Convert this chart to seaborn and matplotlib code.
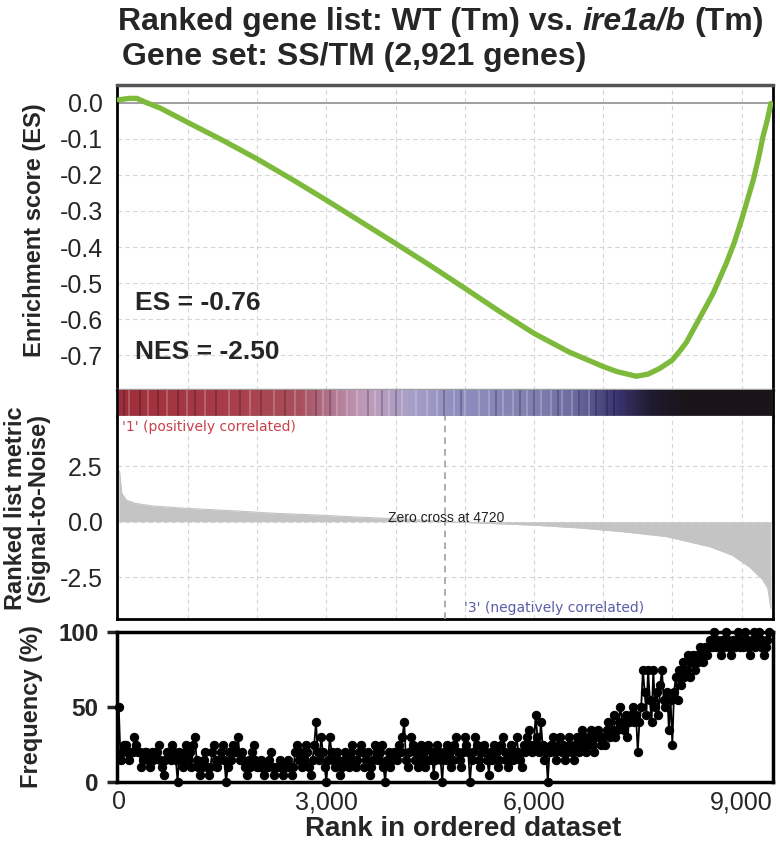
import numpy as np
import pandas as pd
import seaborn as sns
import matplotlib.pyplot as plt
from matplotlib.colors import LinearSegmentedColormap

sns.set_style("white")
plt.rcParams['font.family'] = ['Liberation Sans', 'DejaVu Sans']
plt.rcParams['axes.unicode_minus'] = False

# ---- data ----
n_genes = 9425

es_rank = [0, 150, 260, 400, 600, 1000, 1500, 2000, 2500, 3000, 3500, 4000,
           4500, 5000, 5500, 6000, 6500, 7000, 7200, 7480, 7650, 7820, 8000,
           8100, 8200, 8300, 8400, 8500, 8590, 8700, 8780, 8900, 9000, 9100,
           9170, 9250, 9310, 9370, 9425]
es_value = [0.008, 0.012, 0.012, 0.0, -0.015, -0.055, -0.104, -0.156, -0.212,
            -0.27, -0.33, -0.39, -0.451, -0.514, -0.578, -0.639, -0.69, -0.731,
            -0.745, -0.758, -0.752, -0.736, -0.713, -0.69, -0.665, -0.63,
            -0.595, -0.56, -0.528, -0.48, -0.445, -0.385, -0.325, -0.26,
            -0.214, -0.15, -0.094, -0.05, -0.002]

metric_rank = [0, 12, 43, 107, 233, 484, 988, 1618, 2248, 2879, 3509, 4137,
               4720, 5397, 6027, 6657, 7288, 7917, 8547, 8862, 9114, 9303,
               9380, 9425]
metric_value = [2.3, 2.25, 1.29, 0.98, 0.83, 0.71, 0.60, 0.50, 0.38, 0.30,
                0.20, 0.12, 0.0, -0.08, -0.16, -0.28, -0.45, -0.67, -1.13,
                -1.5, -2.03, -2.6, -3.0, -3.9]
zero_cross = 4720

# colour strip along the ranked list
strip_rank = [0, 1500, 2600, 3000, 3500, 4200, 4800, 6000, 6600, 7200, 7700,
              8200, 9425]
strip_color = ['#9e2f3a', '#a83c48', '#a8505c', '#b07088', '#c09ab8',
               '#a8a0c8', '#9090c0', '#8080b0', '#6a6aa0', '#3a3470',
               '#201a30', '#1a1418', '#1a1418']
stripe_light = [150, 420, 700, 980, 1250, 1600, 1900, 2250, 2550, 2700, 2950,
                3150, 3300, 3450, 3700, 3900, 4100, 4300, 4450, 4600, 4850,
                5000, 5200, 5350, 5550, 5700, 5900, 6100, 6250, 6400, 6550,
                6800]
stripe_dark = [80, 300, 560, 850, 1100, 1400, 1750, 2050, 2400, 2850, 3050,
               3600, 3800, 4000, 4700, 4950, 5450, 5800, 6000, 6350, 6650,
               6900, 7050, 7150]

# gene-set frequency (%) in windows of 25 ranks
freq_step = 25
freq_value = [
    50, 15, 20, 25, 25, 20, 15, 20, 20, 30, 25, 20, 20, 10, 15, 20, 20, 15, 10, 20,
    15, 20, 20, 25, 15, 10, 5, 15, 20, 20, 15, 25, 20, 15, 0, 20, 15, 10, 20, 25,
    15, 20, 10, 25, 30, 15, 10, 5, 10, 15, 20, 10, 5, 10, 20, 25, 15, 10, 15, 20,
    25, 15, 0, 10, 20, 15, 25, 20, 20, 30, 15, 20, 15, 10, 5, 15, 10, 20, 25, 15,
    10, 10, 15, 10, 5, 10, 10, 15, 20, 10, 5, 10, 10, 15, 10, 5, 10, 10, 15, 10,
    5, 10, 20, 25, 15, 20, 10, 15, 25, 20, 10, 5, 15, 25, 40, 20, 15, 30, 20, 10,
    0, 15, 30, 20, 15, 10, 20, 15, 5, 10, 15, 20, 15, 10, 20, 25, 15, 10, 15, 20,
    25, 20, 10, 15, 20, 5, 10, 15, 25, 20, 15, 20, 25, 10, 0, 15, 20, 10, 15, 20,
    20, 15, 25, 20, 30, 40, 15, 10, 20, 30, 25, 15, 20, 10, 15, 25, 20, 10, 15, 25,
    15, 20, 5, 15, 25, 20, 15, 0, 20, 15, 25, 20, 10, 15, 25, 30, 20, 15, 10, 20,
    30, 25, 20, 0, 15, 20, 30, 25, 15, 10, 20, 25, 20, 15, 5, 20, 15, 25, 20, 10,
    15, 25, 30, 20, 15, 10, 20, 25, 15, 20, 30, 20, 15, 10, 25, 20, 30, 35, 25, 20,
    25, 45, 30, 20, 40, 25, 15, 20, 0, 20, 25, 30, 20, 15, 25, 30, 20, 25, 15, 20,
    30, 25, 20, 15, 25, 30, 20, 25, 35, 30, 20, 25, 30, 35, 25, 20, 30, 35, 30, 25,
    30, 25, 35, 40, 30, 35, 45, 30, 35, 40, 50, 40, 35, 45, 30, 40, 45, 50, 40, 45,
    20, 40, 50, 75, 60, 45, 75, 55, 40, 75, 50, 60, 45, 65, 75, 55, 50, 60, 35, 55,
    25, 60, 70, 55, 75, 65, 80, 70, 75, 85, 70, 80, 85, 75, 85, 80, 90, 85, 80, 90,
    85, 90, 95, 90, 100, 90, 95, 90, 85, 95, 90, 100, 95, 90, 85, 95, 90, 95, 100, 90,
    95, 90, 100, 95, 90, 85, 95, 100, 90, 95, 100, 90, 95, 85, 90, 95, 100,
]
freq_rank = np.arange(len(freq_value)) * freq_step

x_ticks = [0, 3000, 6000, 9000]
x_ticklabels = ['0', '3,000', '6,000', '9,000']
es_ticks = [0.0, -0.1, -0.2, -0.3, -0.4, -0.5, -0.6, -0.7]
metric_ticks = [2.5, 0.0, -2.5]
freq_ticks = [0, 50, 100]

# ---- layout ----
W_PX, H_PX = 780, 850
fig = plt.figure(figsize=(W_PX / 100, H_PX / 100), dpi=100)
L, R = 116.7 / W_PX, 773 / W_PX


def box(top, bottom):
    return [L, 1 - bottom / H_PX, R - L, (bottom - top) / H_PX]


ax_es = fig.add_axes(box(85, 390))
ax_bar = fig.add_axes(box(390, 416))
ax_rank = fig.add_axes(box(416, 619))
ax_freq = fig.add_axes(box(632, 782))

xlim = (-30, 9455)
grid_x = list(range(1000, 10000, 1000))
grid_kw = dict(color='#d6d6d6', linestyle=(0, (4, 3)), linewidth=0.8)

# ---- enrichment score ----
df_es = pd.DataFrame({'rank': es_rank, 'ES': es_value})
ax_es.axhline(0, color='#9a9a9a', lw=1.3, zorder=1)
sns.lineplot(data=df_es, x='rank', y='ES', ax=ax_es, color='#7dba3b',
             linewidth=3.8, estimator=None, zorder=3)
ax_es.set_xlim(*xlim)
ax_es.set_ylim(-0.796, 0.049)
ax_es.set_xticks(grid_x)
ax_es.set_yticks(es_ticks)
ax_es.set_yticklabels([f'{v:.1f}' for v in es_ticks])
ax_es.grid(True, **grid_kw)
ax_es.tick_params(axis='x', length=0, labelbottom=False)
ax_es.tick_params(axis='y', length=0, pad=10, labelsize=18)
ax_es.set_xlabel('')
ax_es.set_ylabel('')
for side in ['left', 'right']:
    ax_es.spines[side].set_color('black')
    ax_es.spines[side].set_linewidth(2)
ax_es.spines['top'].set_color('#555555')
ax_es.spines['top'].set_linewidth(2.5)
ax_es.spines['bottom'].set_color('#a0a0a0')
ax_es.spines['bottom'].set_linewidth(2.5)
ax_es.text(234, -0.555, 'ES = -0.76', fontsize=19, weight='bold',
           va='center', ha='left')
ax_es.text(234, -0.69, 'NES = -2.50', fontsize=19, weight='bold',
           va='center', ha='left')

# ---- colour strip ----
pos = [r / n_genes for r in strip_rank]
cmap = LinearSegmentedColormap.from_list('strip', list(zip(pos, strip_color)))
ax_bar.imshow(np.linspace(0, 1, 600)[None, :], cmap=cmap, aspect='auto',
              extent=[0, n_genes, 0, 1], interpolation='bilinear')
ax_bar.vlines(stripe_light, 0, 1, color='white', alpha=0.25, lw=1.2)
ax_bar.vlines(stripe_dark, 0, 1, color='black', alpha=0.25, lw=1.2)
ax_bar.set_xlim(*xlim)
ax_bar.set_ylim(0, 1)
ax_bar.set_xticks([])
ax_bar.set_yticks([])
for side in ['left', 'right']:
    ax_bar.spines[side].set_color('black')
    ax_bar.spines[side].set_linewidth(2)
ax_bar.spines['top'].set_visible(False)
ax_bar.spines['bottom'].set_color('#a0a0a0')
ax_bar.spines['bottom'].set_linewidth(1)

# ---- ranked list metric ----
df_m = pd.DataFrame({'rank': metric_rank, 'metric': metric_value})
ax_rank.fill_between(df_m['rank'], df_m['metric'], 0, color='#c4c4c4',
                     lw=0, zorder=2)
sns.lineplot(data=df_m, x='rank', y='metric', ax=ax_rank, color='#c4c4c4',
             linewidth=0.8, estimator=None, zorder=2)
ax_rank.axvline(zero_cross, color='#a0a0a0', linestyle=(0, (4, 3)), lw=1.2,
                zorder=3)
ax_rank.set_xlim(*xlim)
ax_rank.set_ylim(-4.38, 4.76)
ax_rank.set_xticks(grid_x)
ax_rank.set_yticks(metric_ticks)
ax_rank.set_yticklabels([f'{v:.1f}' for v in metric_ticks])
ax_rank.grid(True, **grid_kw)
ax_rank.tick_params(axis='x', length=0, labelbottom=False)
ax_rank.tick_params(axis='y', length=0, pad=10, labelsize=18)
ax_rank.set_xlabel('')
ax_rank.set_ylabel('')
for side in ['left', 'right', 'bottom']:
    ax_rank.spines[side].set_color('black')
    ax_rank.spines[side].set_linewidth(2)
ax_rank.spines['top'].set_visible(False)
ax_rank.text(4730, 0.17, f'Zero cross at {zero_cross}', fontsize=10,
             ha='center', va='center', color='#222222', zorder=4)
ax_rank.text(48, 4.28, "'1' (positively correlated)", fontsize=10,
             family=['DejaVu Sans'], color='#c8414b', ha='left', va='center')
ax_rank.text(4988, -3.89, "'3' (negatively correlated)", fontsize=10,
             family=['DejaVu Sans'], color='#5b5ba6', ha='left', va='center')

# ---- frequency ----
df_f = pd.DataFrame({'rank': freq_rank, 'freq': freq_value})
sns.lineplot(data=df_f, x='rank', y='freq', ax=ax_freq, color='black',
             linewidth=1.3, marker='o', markersize=6, markeredgecolor='black',
             estimator=None, clip_on=False, zorder=3)
ax_freq.set_xlim(*xlim)
ax_freq.set_ylim(0, 100)
ax_freq.set_xticks(x_ticks)
ax_freq.set_xticklabels(x_ticklabels)
ax_freq.set_yticks(freq_ticks)
ax_freq.set_yticklabels([str(v) for v in freq_ticks], weight='bold')
ax_freq.tick_params(axis='x', length=0, pad=6, labelsize=18)
ax_freq.tick_params(axis='y', length=7, width=2.5, direction='out', pad=6,
                    labelsize=17.5, left=True)
ax_freq.set_xlabel('')
ax_freq.set_ylabel('')
for side in ax_freq.spines:
    ax_freq.spines[side].set_color('black')
    ax_freq.spines[side].set_linewidth(2.5)

# ---- axis labels ----
fig.text(35 / W_PX, 1 - 230 / H_PX, 'Enrichment score (ES)', rotation=90,
         ha='center', va='center', fontsize=17, weight='bold')
fig.text(27 / W_PX, 1 - 508 / H_PX, 'Ranked list metric\n(Signal-to-Noise)',
         rotation=90, ha='center', va='center', fontsize=17, weight='bold',
         linespacing=1.0)
fig.text(32 / W_PX, 1 - 707 / H_PX, 'Frequency (%)', rotation=90,
         ha='center', va='center', fontsize=17, weight='bold')
fig.text(463 / W_PX, 1 - 829 / H_PX, 'Rank in ordered dataset',
         ha='center', va='center', fontsize=20, weight='bold')

# ---- title with italic genotype ----
renderer = fig.canvas.get_renderer()
title_size = 23
gap = 0.28 * title_size * 100 / 72
y1 = 1 - 22 / H_PX
t1 = fig.text(118 / W_PX, y1, 'Ranked gene list: WT (Tm) vs.',
              fontsize=title_size, weight='bold', va='center', ha='left')
x_px = t1.get_window_extent(renderer).x1 + gap
t2 = fig.text(x_px / W_PX, y1, 'ire1a/b', fontsize=title_size, weight='bold',
              style='italic', va='center', ha='left')
x_px = t2.get_window_extent(renderer).x1 + gap
fig.text(x_px / W_PX, y1, '(Tm)', fontsize=title_size, weight='bold',
         va='center', ha='left')
fig.text(122 / W_PX, 1 - 57 / H_PX, 'Gene set: SS/TM (2,921 genes)',
         fontsize=title_size, weight='bold', va='center', ha='left')

fig.savefig('out.png', dpi=100)
